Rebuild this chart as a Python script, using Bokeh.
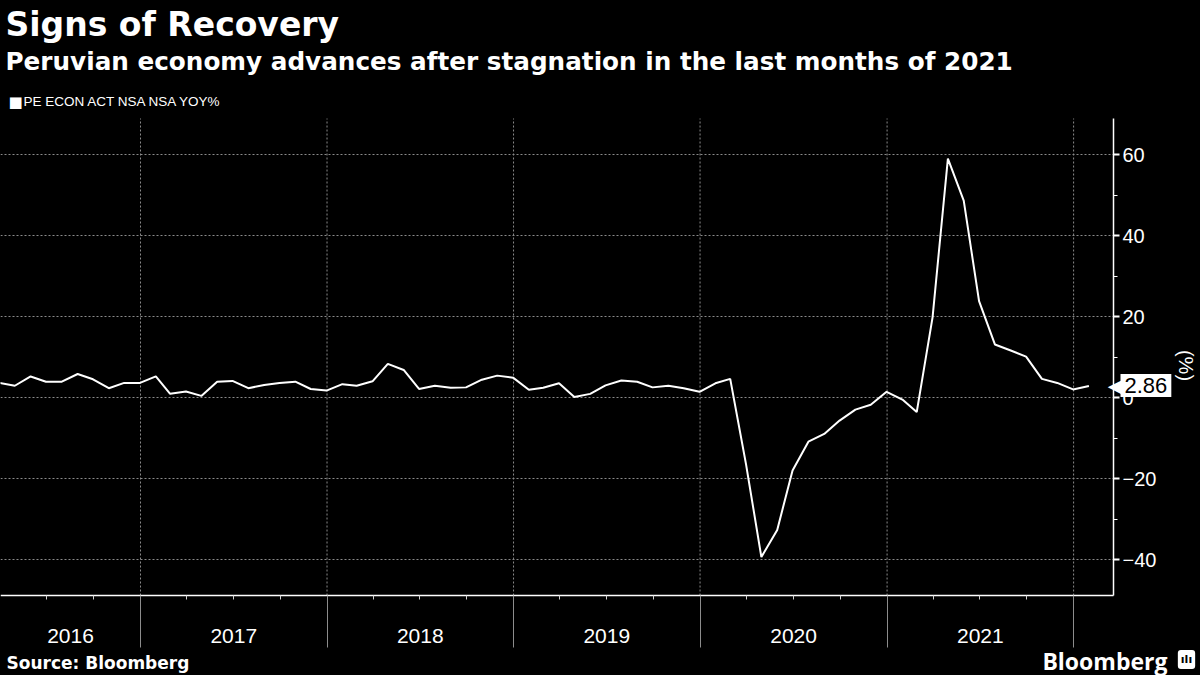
import math
from datetime import datetime, timedelta

import pandas as pd
from bokeh.plotting import figure
from bokeh.models import Range1d, FixedTicker, Label
from bokeh.embed import file_html
from bokeh.resources import INLINE

# ---------------- data ----------------
start_month = "2016-03-31"
end_month = "2022-01-31"
yoy_values = [
    # 2016 Mar-Dec
    3.6, 2.9, 5.2, 3.9, 3.9, 5.8, 4.5, 2.3, 3.6, 3.6,
    # 2017
    5.2, 0.9, 1.5, 0.4, 3.9, 4.1, 2.3, 3.1, 3.6, 3.9, 2.1, 1.7,
    # 2018
    3.3, 2.9, 4.0, 8.3, 6.8, 2.1, 2.9, 2.4, 2.5, 4.4, 5.4, 4.9,
    # 2019
    1.9, 2.4, 3.5, 0.1, 0.9, 3.0, 4.2, 3.9, 2.5, 2.9, 2.3, 1.4,
    # 2020
    3.5, 4.6, -16.5, -39.4, -32.7, -18.0, -10.9, -9.0, -5.7, -3.0, -1.8, 1.4,
    # 2021
    -0.5, -3.6, 19.8, 59.0, 48.6, 23.8, 13.1, 11.6, 10.1, 4.6, 3.6, 2.0,
    # 2022 Jan
    2.86,
]
year_labels = ["2016", "2017", "2018", "2019", "2020", "2021"]
y_ticks = [-40, -20, 0, 20, 40, 60]
y_minor_ticks = [-30, -10, 10, 30, 50]
last_value_text = "2.86"
series_name = "PE ECON ACT NSA NSA YOY%"
title_text = "Signs of Recovery"
subtitle_text = "Peruvian economy advances after stagnation in the last months of 2021"
source_text = "Source: Bloomberg"
unit_text = "(%)"

dates = pd.date_range(start_month, end_month, freq=pd.offsets.MonthEnd())

# ---------------- geometry (window pixels) ----------------
W, H = 1200, 675
PLOT_L, PLOT_R, PLOT_T, PLOT_B = 0, 1113, 118, 595
ZERO_PX = 397.0          # pixel row of y = 0
PPU = 4.05               # pixels per percentage point
PX_PER_DAY = 0.511
x_start = datetime(2016, 4, 2)
EPOCH = datetime(1970, 1, 1)


def ms(dt):
    return (dt - EPOCH).total_seconds() * 1000.0


def px_x(px):
    return ms(x_start + timedelta(days=px / PX_PER_DAY))


def px_y(py):
    return (ZERO_PX - py) / PPU


plot_x0, plot_x1 = px_x(PLOT_L), px_x(PLOT_R)
plot_y0, plot_y1 = px_y(PLOT_B), px_y(PLOT_T)

# The frame covers the whole visible window; axes are drawn at fixed
# locations inside it, their (empty) side panels fall outside the window.
p = figure(
    frame_width=W, frame_height=H,
    x_axis_type="datetime",
    y_axis_location="right",
    x_range=Range1d(px_x(0), px_x(W)),
    y_range=Range1d(px_y(H), px_y(0)),
    output_backend="svg",
    toolbar_location=None,
    min_border=0,
    background_fill_color="black",
    border_fill_color="black",
    outline_line_color=None,
)
p.xgrid.visible = False
p.ygrid.visible = False

# ---------------- grid (dotted, only inside the plot area) ----------------
year_starts = [ms(datetime(y, 1, 1)) for y in range(2017, 2023)]
grid_style = dict(line_color="#8a8a8a", line_dash="2 2", line_width=1)
p.segment(x0=year_starts, y0=[plot_y0] * len(year_starts),
          x1=year_starts, y1=[plot_y1] * len(year_starts), **grid_style)
p.segment(x0=[plot_x0] * len(y_ticks), y0=y_ticks,
          x1=[plot_x1] * len(y_ticks), y1=y_ticks, **grid_style)

# ---------------- line ----------------
p.line(dates, yoy_values, line_color="white", line_width=2)

# ---------------- axes ----------------
quarter_starts = [ms(datetime(y, m, 1)) for y in range(2016, 2023) for m in (4, 7, 10)
                  if plot_x0 < ms(datetime(y, m, 1)) < plot_x1]

xa = p.xaxis[0]
xa.fixed_location = plot_y0
xa.bounds = (plot_x0, plot_x1)
xa.ticker = FixedTicker(ticks=year_starts, minor_ticks=quarter_starts)
xa.major_label_text_font_size = "0px"
xa.major_label_text_color = None
xa.axis_line_color = "white"
xa.axis_line_width = 1.5
xa.major_tick_in = 0
xa.major_tick_out = 52
xa.major_tick_line_color = "#8c8c8c"
xa.major_tick_line_width = 1
xa.minor_tick_in = 0
xa.minor_tick_out = 4
xa.minor_tick_line_color = "#d0d0d0"
xa.minor_tick_line_width = 1

ya = p.yaxis[0]
ya.fixed_location = plot_x1
ya.bounds = (plot_y0, plot_y1)
ya.ticker = FixedTicker(ticks=y_ticks, minor_ticks=y_minor_ticks)
ya.axis_line_color = "white"
ya.axis_line_width = 1.5
ya.major_tick_in = 0
ya.major_tick_out = 6
ya.major_tick_line_color = "white"
ya.major_tick_line_width = 2
ya.minor_tick_in = 0
ya.minor_tick_out = 4
ya.minor_tick_line_color = "white"
ya.minor_tick_line_width = 1
ya.major_label_text_color = "white"
ya.major_label_text_font = "Liberation Sans"
ya.major_label_text_font_size = "20px"
ya.major_label_standoff = 3


# ---------------- texts (py = vertical centre of the text) ----------------
def add_label(text, px, py, size, font="Liberation Sans", bold=False, color="white",
              align="left", angle=0.0, **kw):
    lab = Label(
        x=px_x(px), y=px_y(py), text=text,
        text_color=color, text_font=font, text_font_size=f"{size}px",
        text_font_style="bold" if bold else "normal",
        text_align=align, text_baseline="middle", angle=angle, **kw,
    )
    p.add_layout(lab)
    return lab


add_label(title_text, 5, 24, 33, font="DejaVu Sans", bold=True)
add_label(subtitle_text, 5, 61, 24.7, font="DejaVu Sans", bold=True)
add_label("\u25a0", 8, 101, 15, font="DejaVu Sans")
add_label(series_name, 23, 101, 13.5)

# year labels centred on the visible part of each year
for lab in year_labels:
    a_ms = max(ms(datetime(int(lab), 1, 1)), plot_x0)
    b_ms = min(ms(datetime(int(lab) + 1, 1, 1)), plot_x1)
    p.add_layout(Label(x=(a_ms + b_ms) / 2.0, y=px_y(635), text=lab, text_color="white",
                       text_font="Liberation Sans", text_font_size="21px",
                       text_align="center", text_baseline="middle"))

add_label(source_text, 6, 662, 17, font="DejaVu Sans", bold=True)
add_label("Bloomberg", 1167, 660, 23, font="Open Sans", bold=True, align="right")
add_label("\u0131l\u0131", 1186, 659, 11, font="DejaVu Sans", bold=True, color="black",
          align="center", background_fill_color="white", padding=3, border_radius=3)

# axis unit label
add_label(unit_text, 1185, 365, 20, align="center", angle=-math.pi / 2)

# last value tag
add_label("\u25c0", 1121, 385, 18, font="DejaVu Sans", align="right")
add_label(last_value_text, 1120, 385, 22, color="black", align="left",
          background_fill_color="white", padding=4)

html = file_html(p, INLINE)
html = html.replace(
    "</head>",
    "<style>html,body{margin:0;padding:0;background:#000;overflow:hidden;}</style></head>", 1)
open("out.html", "w").write(html)
